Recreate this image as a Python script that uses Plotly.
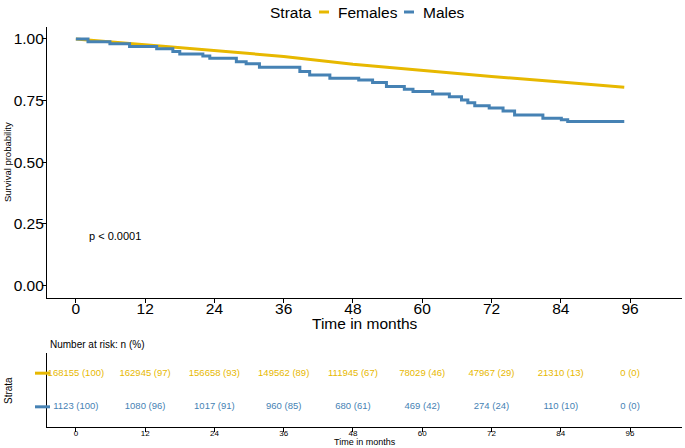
import plotly.graph_objects as go

# ---- data ----
fem_time = [0, 12, 24, 36, 48, 60, 72, 84, 95]
fem_surv = [1.0, 0.977, 0.955, 0.929, 0.897, 0.871, 0.848, 0.825, 0.804]

male_time = [0, 2.1, 5.9, 9.3, 14, 16.8, 18, 22, 23.2, 27.8, 29.5, 31.8, 38.8, 40.5, 44, 49,
             51.4, 53.8, 56.9, 58.4, 61.8, 64.7, 66.8, 67.9, 69.1, 71.6, 74, 76, 80.9, 84.1, 85.2, 95]
male_surv = [1.0, 0.989, 0.980, 0.969, 0.960, 0.949, 0.939, 0.931, 0.922, 0.908, 0.899, 0.885,
             0.868, 0.854, 0.841, 0.834, 0.823, 0.807, 0.796, 0.787, 0.777, 0.766, 0.753, 0.741,
             0.729, 0.720, 0.708, 0.692, 0.679, 0.672, 0.665, 0.665]

risk_times = [0, 12, 24, 36, 48, 60, 72, 84, 96]
fem_risk = ["168155 (100)", "162945 (97)", "156658 (93)", "149562 (89)", "111945 (67)",
            "78029 (46)", "47967 (29)", "21310 (13)", "0 (0)"]
male_risk = ["1123 (100)", "1080 (96)", "1017 (91)", "960 (85)", "680 (61)",
             "469 (42)", "274 (24)", "110 (10)", "0 (0)"]

y_ticks = [0, 0.25, 0.5, 0.75, 1.0]
x_ticks = [0, 12, 24, 36, 48, 60, 72, 84, 96]

C_F = "#E7B800"
C_M = "#4682B4"
FONT = "Liberation Sans, Arial, sans-serif"
W, H = 685, 448

def px(x):
    return x / W

def py(y):
    return 1 - y / H

fig = go.Figure()
fig.add_trace(go.Scatter(x=fem_time, y=fem_surv, mode="lines", line=dict(color=C_F, width=3),
                         name="Females", showlegend=False, xaxis="x", yaxis="y"))
fig.add_trace(go.Scatter(x=male_time, y=male_surv, mode="lines", line=dict(color=C_M, width=3, shape="hv"),
                         name="Males", showlegend=False, xaxis="x", yaxis="y"))
fig.add_trace(go.Scatter(x=risk_times, y=[2] * len(risk_times), mode="text", text=fem_risk,
                         textfont=dict(color=C_F, size=9.5, family=FONT), showlegend=False,
                         xaxis="x2", yaxis="y2", cliponaxis=False))
fig.add_trace(go.Scatter(x=risk_times, y=[1] * len(risk_times), mode="text", text=male_risk,
                         textfont=dict(color=C_M, size=9.5, family=FONT), showlegend=False,
                         xaxis="x2", yaxis="y2", cliponaxis=False))

xdom = [px(47), px(682)]
axis_common = dict(showline=True, linecolor="black", linewidth=1.2, showgrid=False, zeroline=False,
                   ticks="outside", tickcolor="black", ticklen=4, tickwidth=1.1, automargin=False)

fig.update_layout(
    template="none",
    width=W, height=H, margin=dict(l=0, r=0, t=0, b=0, pad=0), showlegend=False,
    paper_bgcolor="white", plot_bgcolor="white",
    font=dict(family=FONT, color="black"),
    xaxis=dict(domain=xdom, range=[-5, 105], tickvals=x_ticks, anchor="y",
               tickfont=dict(size=15.5), ticklabelstandoff=-8, **axis_common),
    yaxis=dict(domain=[py(298), py(26.6)], range=[-0.05, 1.05], tickvals=y_ticks,
               ticktext=["%.2f" % v for v in y_ticks], tickfont=dict(size=15.5), anchor="x",
               ticklabelstandoff=-5, **axis_common),
    xaxis2=dict(domain=xdom, range=[-5, 105], tickvals=x_ticks, anchor="y2",
                tickfont=dict(size=8), ticklabelstandoff=-6, **axis_common),
    yaxis2=dict(domain=[py(427), py(353)], range=[0.4, 2.6], anchor="x2", showticklabels=False,
                showline=True, linecolor="black", linewidth=1.2, showgrid=False, zeroline=False,
                ticks="", automargin=False),
)

ann = []
ann.append(dict(text="Time in months", x=(xdom[0] + xdom[1]) / 2, y=py(323), xref="paper", yref="paper",
                showarrow=False, font=dict(size=15.5), xanchor="center", yanchor="middle"))
ann.append(dict(text="Survival probability", x=px(8), y=py(162), xref="paper", yref="paper",
                showarrow=False, font=dict(size=9.5), textangle=-90, xanchor="center", yanchor="middle"))
ann.append(dict(text="p < 0.0001", x=1.9, y=0.2, xref="x", yref="y", showarrow=False,
                font=dict(size=11), xanchor="left", yanchor="middle"))
ann.append(dict(text="Number at risk: n (%)", x=px(48), y=py(344), xref="paper", yref="paper",
                showarrow=False, font=dict(size=10), xanchor="left", yanchor="middle"))
ann.append(dict(text="Strata", x=px(8), y=py(390), xref="paper", yref="paper",
                showarrow=False, font=dict(size=10), textangle=-90, xanchor="center", yanchor="middle"))
ann.append(dict(text="Time in months", x=(xdom[0] + xdom[1]) / 2, y=py(442), xref="paper", yref="paper",
                showarrow=False, font=dict(size=9), xanchor="center", yanchor="middle"))
# legend
ann.append(dict(text="Strata", x=px(270), y=py(12), xref="paper", yref="paper", showarrow=False,
                font=dict(size=15.5), xanchor="left", yanchor="middle", xshift=-2))
ann.append(dict(text="Females", x=px(338), y=py(12), xref="paper", yref="paper", showarrow=False,
                font=dict(size=15.5), xanchor="left", yanchor="middle", xshift=-2))
ann.append(dict(text="Males", x=px(423), y=py(12), xref="paper", yref="paper", showarrow=False,
                font=dict(size=15.5), xanchor="left", yanchor="middle", xshift=-2))
fig.update_layout(annotations=ann)

shapes = [
    dict(type="line", xref="paper", yref="paper", x0=px(319), x1=px(329), y0=py(12), y1=py(12),
         line=dict(color=C_F, width=3)),
    dict(type="line", xref="paper", yref="paper", x0=px(404), x1=px(414), y0=py(12), y1=py(12),
         line=dict(color=C_M, width=3)),
    dict(type="line", xref="paper", yref="y2", x0=px(35), x1=px(50), y0=2, y1=2,
         line=dict(color=C_F, width=3)),
    dict(type="line", xref="paper", yref="y2", x0=px(35), x1=px(50), y0=1, y1=1,
         line=dict(color=C_M, width=3)),
]
fig.update_layout(shapes=shapes)

fig.write_html("out.html", config={"displayModeBar": False},
               post_script="document.body.style.margin='0px';document.body.style.padding='0px';")
